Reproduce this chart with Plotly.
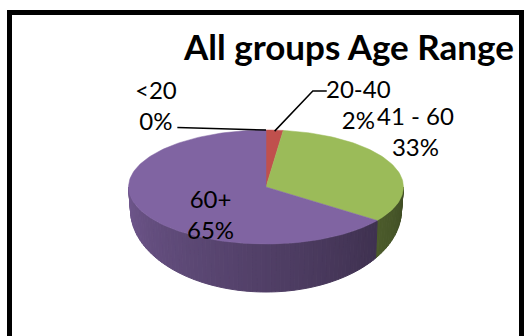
import math
import plotly.graph_objects as go

# ---- data ----
categories = ["<20", "20-40", "41 - 60", "60+"]
values = [0, 2, 33, 65]
colors = ["#4F81BD", "#C0504D", "#9BBB59", "#8064A2"]
title_text = "All groups Age Range"

# ---- geometry of the tilted pie (layout constants, page pixels) ----
CX, CY = 267, 187          # top face centre
RX, RY = 138, 57           # top face radii
BCY, BRX, BRY = 210, 136, 82   # bottom rim ellipse (perspective)

def top_pt(t):
    r = math.radians(t)
    return CX + RX * math.sin(r), CY - RY * math.cos(r)

def bot_pt(t):
    r = math.radians(t)
    return CX + BRX * math.sin(r), BCY - BRY * math.cos(r)

def shade(hexc, f):
    h = hexc.lstrip("#")
    rgb = [int(h[i:i + 2], 16) for i in (0, 2, 4)]
    return "rgb(%d,%d,%d)" % tuple(int(c * f) for c in rgb)

total = float(sum(values))
bounds = []
acc = 0.0
for v in values:
    a0 = acc / total * 360.0
    acc += v
    a1 = acc / total * 360.0
    bounds.append((a0, a1))

fig = go.Figure()

# side walls (front half only), strips shaded from right (dark) to left (light)
step = 2.0
t = 90.0
while t < 270.0 - 1e-9:
    t2 = min(t + step, 270.0)
    mid = (t + t2) / 2
    idx = 0
    for i, (a0, a1) in enumerate(bounds):
        if a0 <= mid < a1:
            idx = i
    f = 0.40 + (mid - 90.0) / 180.0 * 0.47
    col = shade(colors[idx], f)
    p1, p2 = top_pt(t), top_pt(t2)
    q2, q1 = bot_pt(t2), bot_pt(t)
    fig.add_trace(go.Scatter(
        x=[p1[0], p2[0], q2[0], q1[0], p1[0]],
        y=[p1[1], p2[1], q2[1], q1[1], p1[1]],
        mode="lines", fill="toself", fillcolor=col,
        line=dict(color=col, width=1), hoverinfo="skip", showlegend=False))
    t = t2

# top face wedges
for i, (a0, a1) in enumerate(bounds):
    if a1 - a0 <= 0:
        continue
    n = max(2, int((a1 - a0) / 1.5))
    xs, ys = [CX], [CY]
    for k in range(n + 1):
        px, py = top_pt(a0 + (a1 - a0) * k / n)
        xs.append(px)
        ys.append(py)
    xs.append(CX)
    ys.append(CY)
    fig.add_trace(go.Scatter(
        x=xs, y=ys, mode="lines", fill="toself", fillcolor=colors[i],
        line=dict(color=colors[i], width=0.5), name=categories[i],
        hoverinfo="name", showlegend=False))

# data labels
label_pos = [(157, 105), (360, 104), (417, 131), (211, 214)]
annotations = []
for i, cat in enumerate(categories):
    pct = round(values[i] / total * 100)
    annotations.append(dict(
        x=label_pos[i][0], y=label_pos[i][1], xref="x", yref="y",
        text="%s<br>%d%%" % (cat, pct), showarrow=False, align="center",
        xanchor="center", yanchor="middle",
        font=dict(family="Lato", size=24, color="#000000")))

# leader lines for the two thin slices
mid0 = top_pt(sum(bounds[0]) / 2)
fig.add_trace(go.Scatter(x=[178, mid0[0]], y=[127.5, mid0[1]], mode="lines",
                         line=dict(color="black", width=1.5),
                         hoverinfo="skip", showlegend=False))
mid1 = top_pt(sum(bounds[1]) / 2)
fig.add_trace(go.Scatter(x=[328, 314, mid1[0]], y=[91, 91, mid1[1] + 1], mode="lines",
                         line=dict(color="black", width=1.5),
                         hoverinfo="skip", showlegend=False))

annotations.append(dict(
    x=350, y=46, xref="x", yref="y", text="<b>%s</b>" % title_text,
    showarrow=False, xanchor="center", yanchor="middle",
    font=dict(family="Lato", size=35, color="#000000")))

# plot area = inner chart frame; axis lines draw the thick black border
ML, MR, MT = 12, 3, 15
fig.update_layout(
    width=524, height=336,
    margin=dict(l=ML, r=MR, t=MT, b=0, pad=0),
    paper_bgcolor="white", plot_bgcolor="white",
    xaxis=dict(range=[ML, 524 - MR], showline=True, linewidth=5, linecolor="black",
               side="top", mirror=False, showgrid=False, zeroline=False,
               showticklabels=False, ticks="", fixedrange=True),
    yaxis=dict(range=[336, MT], showline=True, linewidth=5, linecolor="black",
               mirror=True, showgrid=False, zeroline=False,
               showticklabels=False, ticks="", fixedrange=True),
    annotations=annotations,
    showlegend=False,
)

fig.write_html("out.html")
